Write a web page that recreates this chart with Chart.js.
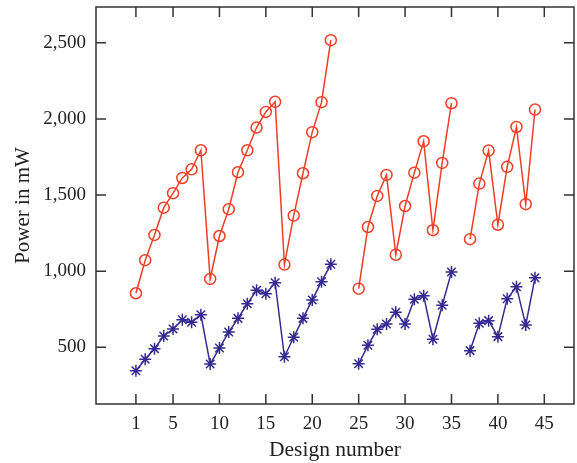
<!DOCTYPE html>
<html lang="en">
<head>
  <meta charset="UTF-8">
  <title>Power vs design number</title>
  <script src="https://cdn.jsdelivr.net/npm/chart.js"></script>
  <style>
    body { margin: 0; padding: 0; background: #fff; }
    #wrap { width: 577px; height: 463px; }
  </style>
</head>
<body>
  <div id="wrap"><canvas id="chart" width="577" height="463"></canvas></div>
  <script>
    // Design numbers 1..44 (23, 24 and 36 have no value)
    const designs = [];
    for (let i = 1; i <= 44; i++) designs.push(i);

    const redPower = [
      855, 1072, 1238, 1417, 1512, 1612, 1669, 1794, 949, 1231,
      1407, 1650, 1794, 1943, 2046, 2112, 1043, 1365, 1643, 1913,
      2110, 2517, null, null, 885, 1290, 1494, 1632, 1108, 1428,
      1647, 1853, 1269, 1711, 2103, null, 1210, 1575, 1792, 1305,
      1685, 1947, 1440, 2061
    ];
    const bluePower = [
      346, 421, 491, 574, 620, 681, 664, 714, 390, 495,
      600, 690, 786, 874, 852, 924, 438, 566, 690, 811,
      931, 1045, null, null, 392, 513, 618, 653, 730, 653,
      815, 839, 553, 776, 995, null, 478, 658, 675, 570,
      819, 898, 646, 957
    ];

    const xTicks = [1, 5, 10, 15, 20, 25, 30, 35, 40, 45];
    const yTicks = [500, 1000, 1500, 2000, 2500];

    const RED = 'rgb(240, 62, 38)';
    const BLUE = 'rgb(52, 42, 145)';
    const FRAME = '#333';

    // frame and inward tick marks on all four sides
    const frameTicks = {
      id: 'frameTicks',
      afterDraw(chart) {
        const { ctx, chartArea: a, scales } = chart;
        ctx.save();
        ctx.strokeStyle = FRAME;
        ctx.lineWidth = 1.5;
        ctx.strokeRect(a.left, a.top, a.right - a.left, a.bottom - a.top);
        ctx.beginPath();
        xTicks.forEach(v => {
          const px = scales.x.getPixelForValue(v);
          ctx.moveTo(px, a.bottom); ctx.lineTo(px, a.bottom - 10);
          ctx.moveTo(px, a.top); ctx.lineTo(px, a.top + 10);
        });
        yTicks.forEach(v => {
          const py = scales.y.getPixelForValue(v);
          ctx.moveTo(a.left, py); ctx.lineTo(a.left + 10, py);
          ctx.moveTo(a.right, py); ctx.lineTo(a.right - 10, py);
        });
        ctx.stroke();
        ctx.restore();
      }
    };

    const toPoints = vals => designs.map((d, i) => ({ x: d, y: vals[i] }));

    new Chart(document.getElementById('chart'), {
      type: 'line',
      data: {
        datasets: [{
          data: toPoints(redPower),
          borderColor: RED,
          borderWidth: 1.5,
          pointStyle: 'circle',
          pointRadius: 5.5,
          pointBorderWidth: 1.5,
          pointBorderColor: RED,
          pointBackgroundColor: 'rgba(0,0,0,0)',
          tension: 0,
          spanGaps: false
        }, {
          data: toPoints(bluePower),
          borderColor: BLUE,
          borderWidth: 1.5,
          pointStyle: 'star',
          pointRadius: 6,
          pointBorderWidth: 1.5,
          pointBorderColor: BLUE,
          pointBackgroundColor: BLUE,
          tension: 0,
          spanGaps: false
        }]
      },
      options: {
        responsive: false,
        animation: false,
        layout: { autoPadding: false, padding: { top: 7, right: 3, left: 0, bottom: 0 } },
        plugins: { legend: { display: false }, tooltip: { enabled: false } },
        scales: {
          x: {
            type: 'linear',
            min: -3.3,
            max: 48.2,
            afterBuildTicks: s => { s.ticks = xTicks.map(v => ({ value: v })); },
            afterFit: s => { s.height = 59; s.paddingLeft = 0; s.paddingRight = 0; },
            grid: { display: false, drawTicks: false },
            border: { display: false },
            ticks: {
              color: '#222',
              padding: 9,
              font: { family: 'Liberation Serif', size: 19 },
              maxRotation: 0,
              autoSkip: false
            },
            title: {
              display: true,
              text: 'Design number',
              color: '#222',
              font: { family: 'Liberation Serif', size: 21.5 },
              padding: { top: 0, bottom: 0 }
            }
          },
          y: {
            min: 127.5,
            max: 2735,
            afterBuildTicks: s => { s.ticks = yTicks.map(v => ({ value: v })); },
            afterFit: s => { s.width = 96; s.paddingTop = 0; s.paddingBottom = 0; },
            grid: { display: false, drawTicks: false },
            border: { display: false },
            ticks: {
              color: '#222',
              padding: 10,
              font: { family: 'Liberation Serif', size: 19 },
              callback: v => v.toLocaleString('en-US')
            },
            title: {
              display: true,
              text: 'Power in mW',
              color: '#222',
              font: { family: 'Liberation Serif', size: 21 },
              padding: { top: 11, bottom: 0 }
            }
          }
        }
      },
      plugins: [frameTicks]
    });
  </script>
</body>
</html>
